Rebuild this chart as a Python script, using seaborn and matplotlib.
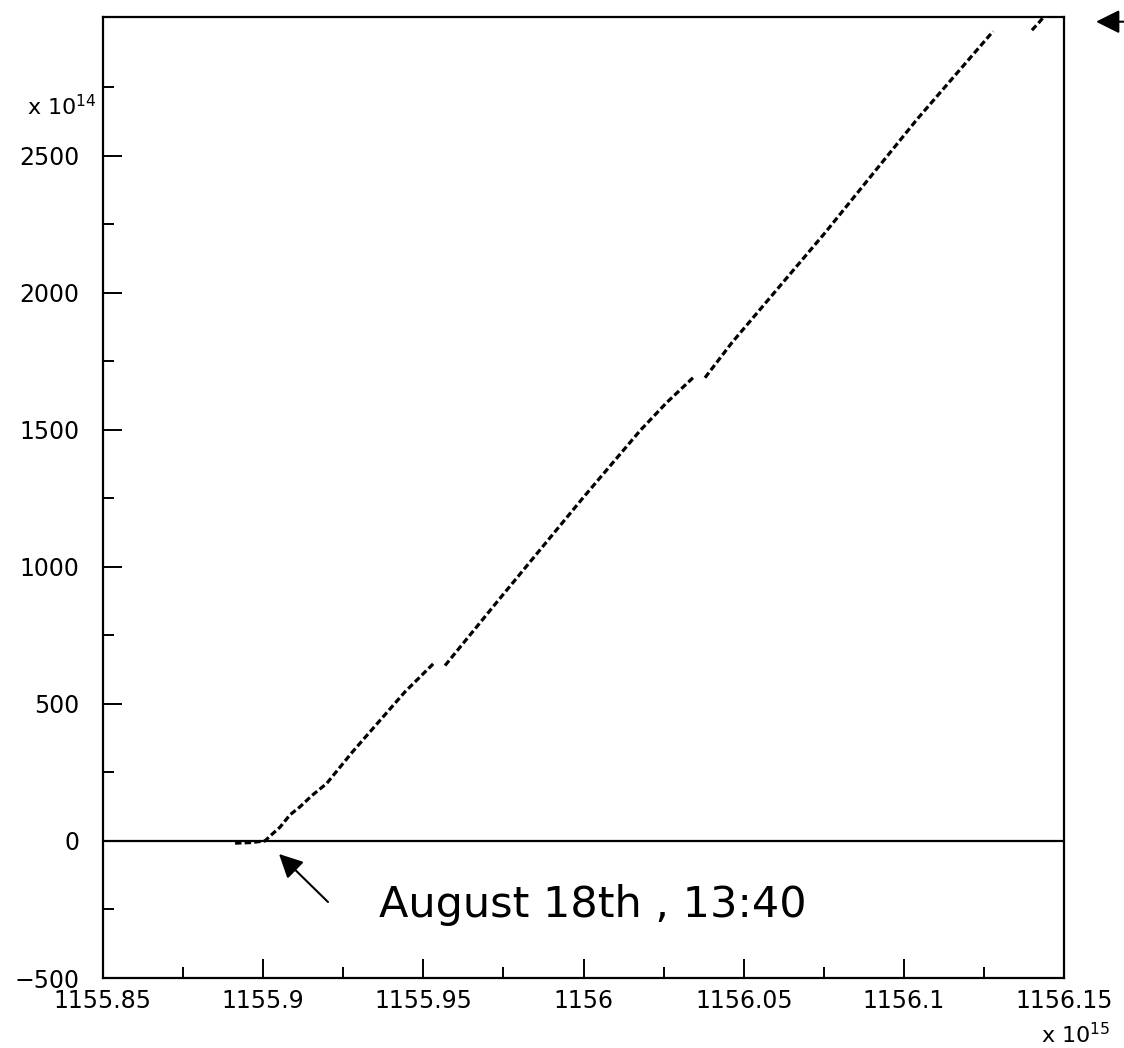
import matplotlib
matplotlib.use("Agg")
import matplotlib.pyplot as plt
import seaborn as sns
import pandas as pd
from matplotlib.ticker import FixedLocator

# ---- data (x in units of 1e15, y in units of 1e14) ----
seg1_x = [1155.8913, 1155.8960, 1155.9006, 1155.9026, 1155.9053, 1155.9084, 1155.9116,
          1155.9152, 1155.9199, 1155.9280, 1155.9366, 1155.9443, 1155.9531]
seg1_y = [-8, -6, 0, 22, 50, 95, 125, 165, 210, 326, 441, 544, 646]
seg2_x = [1155.9568, 1155.9740, 1156.0000, 1156.0178, 1156.0260, 1156.0348]
seg2_y = [640, 886, 1254, 1499, 1600, 1697]
seg3_x = [1156.0379, 1156.0463, 1156.0753, 1156.1040, 1156.1278]
seg3_y = [1690, 1818, 2218, 2632, 2954]
seg4_x = [1156.1399, 1156.1424, 1156.1445]
seg4_y = [2958, 2990, 3020]

x_ticks = [1155.85, 1155.90, 1155.95, 1156.00, 1156.05, 1156.10, 1156.15]
x_tick_labels = ["1155.85", "1155.9", "1155.95", "1156", "1156.05", "1156.1", "1156.15"]
x_minor = [1155.875, 1155.925, 1155.975, 1156.025, 1156.075, 1156.125]
y_ticks = [-500, 0, 500, 1000, 1500, 2000, 2500]
y_tick_labels = ["\u2212500", "0", "500", "1000", "1500", "2000", "2500"]
y_minor = [-250, 250, 750, 1250, 1750, 2250, 2750]
annotation_text = "August 18th , 13:40"

frames = []
for i, (xs, ys) in enumerate([(seg1_x, seg1_y), (seg2_x, seg2_y), (seg3_x, seg3_y), (seg4_x, seg4_y)]):
    frames.append(pd.DataFrame({"x": xs, "y": ys, "seg": i}))
df = pd.concat(frames, ignore_index=True)

sns.set_style("ticks")
plt.rcParams["font.family"] = ["DejaVu Sans"]
plt.rcParams["text.color"] = "black"

W, H = 1124, 1048
fig = plt.figure(figsize=(W / 100, H / 100), dpi=100)
ax = fig.add_axes([102.7 / W, 1 - 978 / H, (1064.3 - 102.7) / W, (978 - 17.3) / H])

for s, sub in df.groupby("seg"):
    sns.lineplot(data=sub, x="x", y="y", sort=False, estimator=None, ax=ax,
                 color="black", linewidth=2.3, linestyle=(0, (2.0, 1.0)))

ax.axhline(0, color="black", linewidth=1.6)

ax.set_xlim(1155.85, 1156.15)
ax.set_ylim(-500, 3005)
ax.set_xticks(x_ticks, x_tick_labels)
ax.set_yticks(y_ticks, y_tick_labels)
ax.xaxis.set_minor_locator(FixedLocator(x_minor))
ax.yaxis.set_minor_locator(FixedLocator(y_minor))
ax.set_xlabel("")
ax.set_ylabel("")

for sp in ax.spines.values():
    sp.set_visible(True)
    sp.set_linewidth(1.6)
    sp.set_color("black")

ax.tick_params(axis="both", which="major", direction="in", length=13.7, width=1.4,
               labelsize=17, top=False, right=False, colors="black", labelcolor="black")
ax.tick_params(axis="both", which="minor", direction="in", length=7.9, width=1.4,
               top=False, right=False, colors="black")
ax.tick_params(axis="x", which="major", pad=8)
ax.tick_params(axis="y", which="major", pad=17)

fig.text(97 / W, 1 - 115 / H, r"x 10$^{14}$", ha="right", va="baseline", fontsize=16, color="black")
fig.text(1110 / W, 5 / H, r"x 10$^{15}$", ha="right", va="baseline", fontsize=16, color="black")

arrow_kw = dict(arrowstyle="-|>,head_length=0.4,head_width=0.2", mutation_scale=36,
                lw=1.5, color="black", shrinkA=0, shrinkB=0)
ax.annotate("", xy=(1096, H - 21.7), xycoords="figure pixels",
            xytext=(1124, H - 21.7), textcoords="figure pixels",
            arrowprops=arrow_kw, annotation_clip=False)
ax.annotate("", xy=(279, H - 854), xycoords="figure pixels",
            xytext=(328, H - 902), textcoords="figure pixels",
            arrowprops=arrow_kw, annotation_clip=False)

fig.text(378.6 / W, 1 - 917 / H, annotation_text, ha="left", va="baseline", fontsize=31, color="black")

fig.savefig("out.png", dpi=100, facecolor="white")
